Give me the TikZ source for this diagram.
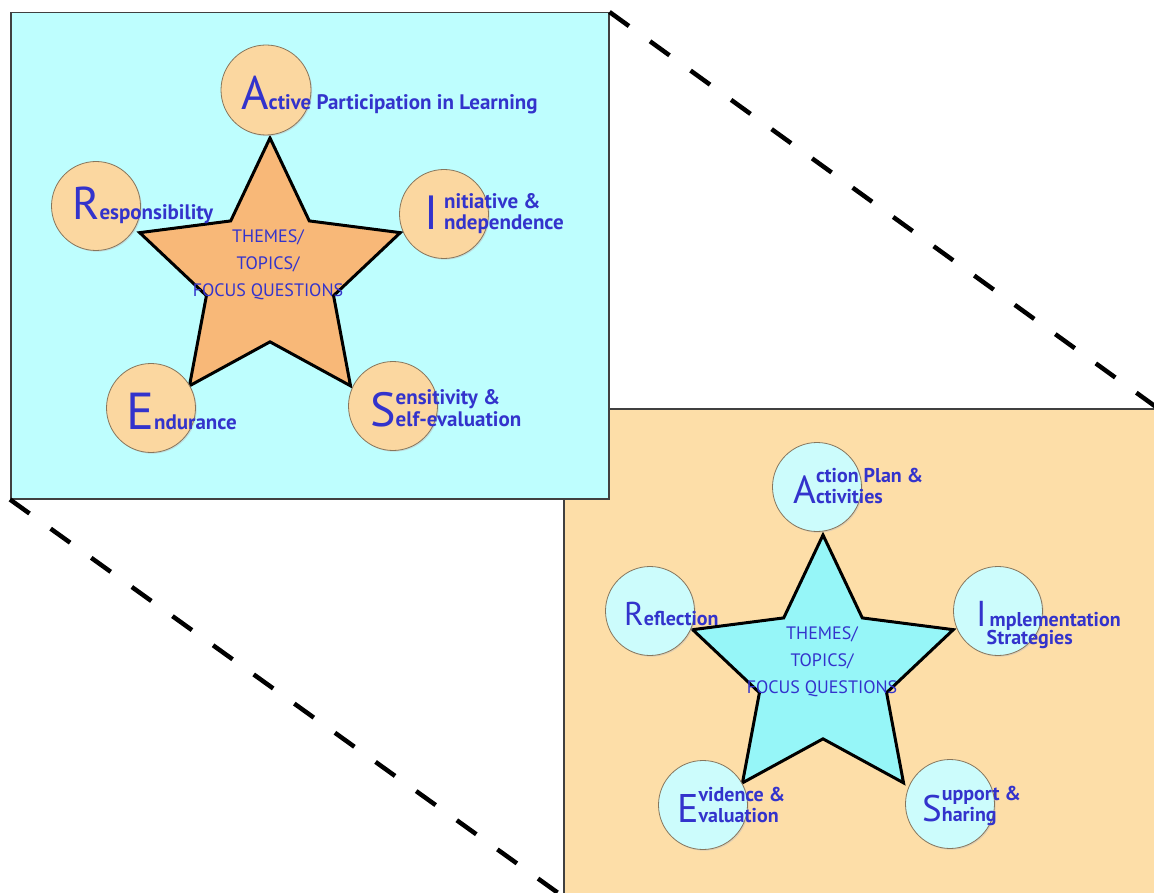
\documentclass[tikz,border=0pt]{standalone}
\usepackage{fontspec}
\setmainfont{PT Sans}
\usetikzlibrary{shapes.geometric,shadows,positioning}

\definecolor{aqua0}{RGB}{190,254,254}
\definecolor{sand0}{RGB}{253,222,168}
\definecolor{peach}{RGB}{251,215,160}
\definecolor{apricot}{RGB}{248,184,120}
\definecolor{ice}{RGB}{204,252,252}
\definecolor{aqua1}{RGB}{150,246,248}
\definecolor{rim}{RGB}{135,118,92}
\definecolor{ink}{RGB}{51,51,204}

\newcommand{\bigini}[2]{{\fontsize{#1}{#1}\selectfont\mdseries #2}}

\begin{document}
\begin{tikzpicture}
[x=1pt, y=-1pt, line join=miter,
panel/.style={rectangle, draw=black!75, line width=1.5pt, inner sep=0pt, anchor=north west},
circ0/.style={circle, draw=rim, line width=0.8pt, fill=peach, inner sep=0pt, minimum size=89pt,
  drop shadow={shadow xshift=1.2pt, shadow yshift=-1.2pt, fill=black!25}},
circ1/.style={circ0, fill=ice},
star0/.style={star, star points=5, star point ratio=2.05, draw=black, line width=3pt, fill=apricot, inner sep=0pt, minimum size=274pt},
star1/.style={star0, fill=aqua1},
word0/.style={anchor=base west, inner sep=0pt, text=ink, font=\fontsize{21}{21.5}\selectfont\bfseries},
word1/.style={word0, font=\fontsize{20}{20.5}\selectfont\bfseries},
theme/.style={align=center, inner sep=0pt, text=ink, font=\fontsize{18}{27}\selectfont},
zoomline/.style={draw=black, line width=4.5pt, dash pattern=on 24pt off 26pt}]

\useasboundingbox (0,0) rectangle (1154,893);
\clip (0,0) rectangle (1154,893);
\fill[white] (0,0) rectangle (1154,893);

\node[panel, fill=sand0, minimum width=593pt, minimum height=487pt] (bpanel) at (563,408) {};
\node[panel, fill=aqua0, minimum width=598pt, minimum height=486pt] (tpanel) at (10,12) {};

\node[star0] (tstar) at (270,275) {};
\node[circ0, minimum size=90pt] (tca) at (266,90) {};
\node[circ0] (tcr) at (96,206) {};
\node[circ0] (tci) at (444,214) {};
\node[circ0] (tce) at (151,408) {};
\node[circ0] (tcs) at (393,406) {};

\node[theme] (tthemes) at (268,265) {THEMES/\\TOPICS/\\FOCUS QUESTIONS};
\node[word0] (wact) at (241,110) {\bigini{47}{A}ctive Participation in Learning};
\node[word0] (wres) at (72,220) {\bigini{46}{R}esponsibility};
\node[word0] (wini) at (424,230) {\bigini{48}{I}\hspace{6pt}\begin{tabular}[b]{@{}l@{}}nitiative \&\\ndependence\end{tabular}};
\node[word0] (wend) at (126,429) {\bigini{52}{E}ndurance};
\node[word0] (wsen) at (370,426) {\bigini{48}{S}\begin{tabular}[b]{@{}l@{}}ensitivity \&\\elf-evaluation\end{tabular}};

\node[star1] (bstar) at (823,672) {};
\node[circ1] (bca) at (817,487) {};
\node[circ1] (bcr) at (650,611) {};
\node[circ1] (bci) at (998,611) {};
\node[circ1] (bce) at (703,805) {};
\node[circ1] (bcs) at (950,804) {};

\node[theme] (bthemes) at (822,662) {THEMES/\\TOPICS/\\FOCUS QUESTIONS};
\node[word1] (wapa) at (793,503) {\bigini{39}{A}\begin{tabular}[b]{@{}l@{}}ction Plan \&\\ctivities\end{tabular}};
\node[word1] (wref) at (624,625) {\bigini{33}{R}eflection};
\node[word1] (wimp) at (976,626) {\bigini{36}{I}\hspace{3pt}\begin{tabular}[t]{@{}l@{}}mplementation\\[-2pt]\hspace{-3pt}Strategies\end{tabular}};
\node[word1] (wevi) at (677,822) {\bigini{40}{E}\begin{tabular}[b]{@{}l@{}}vidence \&\\valuation\end{tabular}};
\node[word1] (wsup) at (922,821) {\bigini{37}{S}\begin{tabular}[b]{@{}l@{}}upport \&\\haring\end{tabular}};

\draw[zoomline] (tpanel.north east) -- (bpanel.north east);
\draw[zoomline] (tpanel.south west) -- (bpanel.south west);

\end{tikzpicture}
\end{document}
